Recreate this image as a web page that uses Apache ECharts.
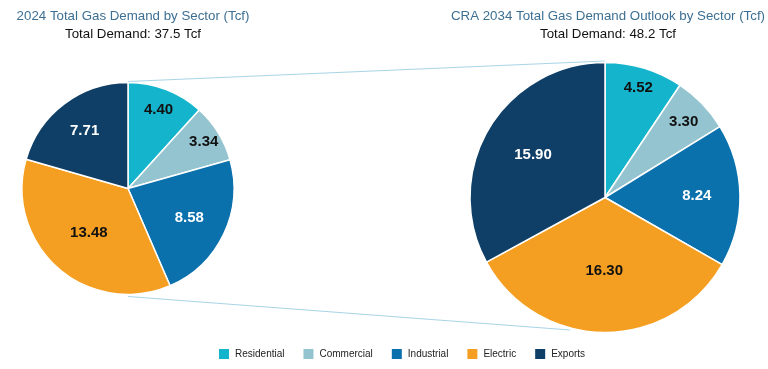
<!DOCTYPE html>
<html>
<head>
<meta charset="utf-8">
<script src="https://cdn.jsdelivr.net/npm/echarts@6/dist/echarts.min.js"></script>
<style>
html,body{margin:0;padding:0;background:#fff;}
#chart{width:768px;height:369px;}
</style>
</head>
<body>
<div id="chart"></div>
<script>
// ---- data ----
var sectors = ['Residential', 'Commercial', 'Industrial', 'Electric', 'Exports'];
var demand2024 = [4.40, 3.34, 8.58, 13.48, 7.71];
var demand2034 = [4.52, 3.30, 8.24, 16.30, 15.90];
var title2024 = '2024 Total Gas Demand by Sector (Tcf)';
var sub2024 = 'Total Demand: 37.5 Tcf';
var title2034 = 'CRA 2034 Total Gas Demand Outlook by Sector (Tcf)';
var sub2034 = 'Total Demand: 48.2 Tcf';

// ---- styling / layout ----
var colors = ['#13b4cc', '#93c4d0', '#0a71ad', '#f59f22', '#0f3f66'];
var labelColors = ['#111', '#111', '#fff', '#111', '#fff'];
var pies = [
  { cx: 128, cy: 188.5, r: 106, labelFrac: [0.80, 0.84, 0.64, 0.56, 0.68] },
  { cx: 605, cy: 197.5, r: 135, labelFrac: [0.85, 0.81, 0.68, 0.54, 0.62] }
];
var seriesData = [demand2024, demand2034];

function makeData(vals) {
  return vals.map(function (v, i) {
    return {
      name: sectors[i], value: v,
      itemStyle: { color: colors[i] },
      label: { color: labelColors[i] }
    };
  });
}

function labelLayoutFor(si) {
  return function (params) {
    var vals = seriesData[si];
    var total = vals.reduce(function (a, b) { return a + b; }, 0);
    var cum = 0;
    for (var k = 0; k < params.dataIndex; k++) cum += vals[k];
    var mid = (cum + vals[params.dataIndex] / 2) / total * Math.PI * 2;
    var p = pies[si];
    var d = p.r * p.labelFrac[params.dataIndex];
    return {
      x: p.cx + d * Math.sin(mid),
      y: p.cy - d * Math.cos(mid),
      align: 'center',
      verticalAlign: 'middle'
    };
  };
}

function pieSeries(si) {
  var p = pies[si];
  return {
    type: 'pie',
    center: [p.cx, p.cy],
    radius: [0, p.r],
    startAngle: 90,
    clockwise: true,
    avoidLabelOverlap: false,
    animation: false,
    silent: true,
    itemStyle: { borderColor: '#fff', borderWidth: 1.5 },
    label: {
      show: true, position: 'inside',
      fontFamily: '"Liberation Sans", Arial, sans-serif',
      fontWeight: 'bold', fontSize: 15,
      formatter: function (prm) { return prm.value.toFixed(2); }
    },
    labelLayout: labelLayoutFor(si),
    labelLine: { show: false },
    data: makeData(seriesData[si])
  };
}

// connector lines between the two pies
var L = pies[0], R = pies[1];
var botAng = 194.7 * Math.PI / 180;
var graphics = [
  { type: 'line', z: -1, shape: { x1: L.cx, y1: L.cy - L.r - 1, x2: R.cx, y2: R.cy - R.r - 1.5 },
    style: { stroke: '#a9d4e6', lineWidth: 1 } },
  { type: 'line', z: -1, shape: { x1: L.cx, y1: L.cy + L.r + 2, x2: R.cx + (R.r + 2) * Math.sin(botAng), y2: R.cy - (R.r + 2) * Math.cos(botAng) },
    style: { stroke: '#a9d4e6', lineWidth: 1 } }
];

var font = '"Liberation Sans", Arial, sans-serif';
var chart = echarts.init(document.getElementById('chart'), null, { renderer: 'canvas' });
chart.setOption({
  backgroundColor: '#fff',
  animation: false,
  title: [
    { text: title2024, left: L.cx, top: 5, textAlign: 'center',
      textStyle: { fontFamily: font, fontSize: 13.3, fontWeight: 'normal', color: '#3d6f93' } },
    { text: sub2024, left: L.cx, top: 23, textAlign: 'center',
      textStyle: { fontFamily: font, fontSize: 13.3, fontWeight: 'normal', color: '#111' } },
    { text: title2034, left: R.cx - 2, top: 5, textAlign: 'center',
      textStyle: { fontFamily: font, fontSize: 13.3, fontWeight: 'normal', color: '#3d6f93' } },
    { text: sub2034, left: R.cx - 2, top: 23, textAlign: 'center',
      textStyle: { fontFamily: font, fontSize: 13.3, fontWeight: 'normal', color: '#111' } }
  ],
  legend: {
    data: sectors,
    left: 212, top: 342,
    itemWidth: 12, itemHeight: 12, itemGap: 17,
    icon: 'rect',
    textStyle: { fontFamily: font, fontSize: 10, color: '#222' },
    selectedMode: false
  },
  graphic: graphics,
  series: [pieSeries(0), pieSeries(1)]
});
</script>
</body>
</html>
